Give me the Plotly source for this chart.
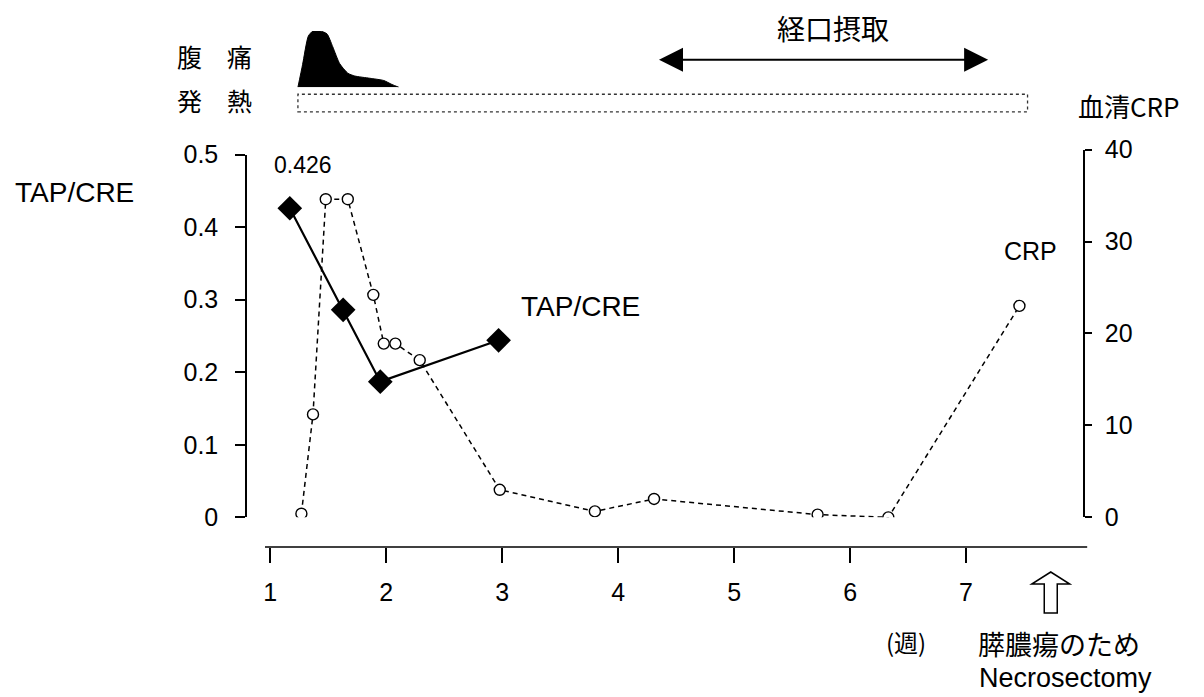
import plotly.graph_objects as go

# Time axis: weeks from onset
week_ticks = [1, 2, 3, 4, 5, 6, 7]

# Urinary TAP/CRE ratio
tap_weeks = [1.17, 1.63, 1.95, 2.97]
tap_cre = [0.426, 0.286, 0.187, 0.244]
tap_ticks = [0, 0.1, 0.2, 0.3, 0.4, 0.5]
tap_tick_text = ["0", "0.1", "0.2", "0.3", "0.4", "0.5"]

# Serum CRP (mg/dL)
crp_weeks = [1.27, 1.37, 1.48, 1.67, 1.89, 1.98, 2.08, 2.29, 2.98, 3.80, 4.31, 5.72, 6.33, 7.46]
crp_vals = [0.4, 11.2, 34.6, 34.6, 24.2, 18.9, 18.9, 17.1, 3.0, 0.65, 2.0, 0.3, 0.0, 23.0]
crp_ticks = [0, 10, 20, 30, 40]

# Abdominal pain intensity profile (relative)
pain_weeks = [1.24, 1.28, 1.33, 1.37, 1.43, 1.49, 1.54, 1.60, 1.67, 1.73, 1.86, 1.98, 2.05, 2.11]
pain_level = [0, 0.40, 0.91, 1.0, 1.0, 0.95, 0.72, 0.42, 0.25, 0.20, 0.16, 0.12, 0.05, 0]

# Clinical periods
fever_span = [1.24, 7.53]
oral_span = [4.34, 7.19]
surgery_week = 7.73

LATIN = "Liberation Sans, Arial, sans-serif"
CJK = "Noto Sans CJK JP, sans-serif"
INK = "black"

fig = go.Figure()

# CRP: dashed line with open circles (right axis)
fig.add_trace(go.Scatter(
    x=crp_weeks, y=crp_vals, yaxis="y", xaxis="x",
    mode="lines+markers",
    line=dict(color=INK, width=1.5, dash="5px,4px"),
    marker=dict(symbol="circle", size=11, color="white",
                line=dict(color=INK, width=1.4)),
    hoverinfo="skip", showlegend=False,
))

# TAP/CRE: solid line with filled diamonds (left axis)
fig.add_trace(go.Scatter(
    x=tap_weeks, y=tap_cre, yaxis="y2", xaxis="x",
    mode="lines+markers",
    line=dict(color=INK, width=2.2),
    marker=dict(symbol="diamond", size=19, color=INK),
    hoverinfo="skip", showlegend=False,
))

# Abdominal pain silhouette (top band)
fig.add_trace(go.Scatter(
    x=pain_weeks, y=pain_level, yaxis="y3", xaxis="x",
    mode="lines", line=dict(color=INK, width=1, shape="spline", smoothing=0.6),
    fill="toself", fillcolor=INK,
    hoverinfo="skip", showlegend=False,
))

fig.update_layout(
    width=1204, height=697,
    margin=dict(l=247, r=121, t=20, b=150),
    paper_bgcolor="white", plot_bgcolor="rgba(0,0,0,0)",
    font=dict(family=LATIN, color=INK, size=25),
    xaxis=dict(
        range=[0.801, 8.008], anchor="free", position=0,
        tickvals=week_ticks, ticks="outside", ticklen=15, tickwidth=1.5,
        tickcolor=INK, showline=False, showgrid=False, zeroline=False,
        ticklabelstandoff=8, tickfont=dict(size=25, family=LATIN),
    ),
    yaxis=dict(
        domain=[0.0569, 0.7628], range=[0, 40], side="right", anchor="x",
        tickvals=crp_ticks, ticks="outside", ticklen=7, tickwidth=1.5,
        tickcolor=INK, showline=True, linecolor=INK, linewidth=1.5,
        showgrid=False, zeroline=False, ticklabelstandoff=8,
        tickfont=dict(size=25, family=LATIN),
    ),
    yaxis2=dict(
        domain=[0.0569, 0.7533], range=[0, 0.5], side="left", anchor="x",
        tickvals=tap_ticks, ticktext=tap_tick_text, ticks="outside",
        ticklen=10, tickwidth=1.5, tickcolor=INK, showline=True,
        linecolor=INK, linewidth=1.5, showgrid=False, zeroline=False,
        ticklabelstandoff=12, tickfont=dict(size=25, family=LATIN),
    ),
    yaxis3=dict(domain=[0.8824, 0.9905], range=[0, 1], anchor="x",
                visible=False, fixedrange=True),
)

# Bottom time axis line
fig.add_shape(type="line", xref="paper", yref="paper",
              x0=0.0215, x1=1.005, y0=0, y1=0,
              line=dict(color=INK, width=1.5))

# Fever band (dotted outline)
fig.add_shape(type="rect", xref="x", yref="paper",
              x0=fever_span[0], x1=fever_span[1], y0=0.835, y1=0.869,
              line=dict(color="#333", width=1.3, dash="dot"))

# Oral intake double-headed arrow
fig.add_annotation(
    x=oral_span[1], y=0.49, xref="x", yref="y3",
    ax=oral_span[0], ay=0.49, axref="x", ayref="y3",
    text="", showarrow=True, arrowside="end+start",
    arrowhead=2, arrowsize=2.4, arrowwidth=2, arrowcolor=INK, standoff=0,
)

# Hollow upward arrow marking surgery
fig.add_shape(
    type="path", xref="x", yref="paper",
    xsizemode="pixel", ysizemode="pixel",
    xanchor=surgery_week, yanchor=0,
    path="M -6.5,-66 L 6.5,-66 L 6.5,-37 L 19,-37 L 0,-25 L -19,-37 L -6.5,-37 Z",
    line=dict(color=INK, width=1.5), fillcolor="white",
)

texts = [
    # (text, x, y, xref, yref, xanchor, size, family)
    ("TAP/CRE", -0.28, 0.6800, "paper", "paper", "left", 28, LATIN),
    ("0.426", 1.28, 0.485, "x", "y2", "center", 23, LATIN),
    ("TAP/CRE", 3.15, 0.29, "x", "y2", "left", 28, LATIN),
    ("CRP", 7.31, 29.0, "x", "y", "left", 25, LATIN),
    ("血清CRP", 0.992, 0.848, "paper", "paper", "left", 26, CJK),
    ("腹\u2003痛", -0.0861, 0.943, "paper", "paper", "left", 25, CJK),
    ("発\u2003熱", -0.0861, 0.858, "paper", "paper", "left", 25, CJK),
    ("経口摂取", 0.701, 0.996, "paper", "paper", "center", 28, CJK),
    ("(週)", 0.788, -0.182, "paper", "paper", "center", 24, CJK),
    ("膵膿瘍のため", 0.872, -0.186, "paper", "paper", "left", 27, CJK),
    ("Necrosectomy", 0.873, -0.252, "paper", "paper", "left", 27, LATIN),
]
for t, x, y, xr, yr, xa, sz, fam in texts:
    fig.add_annotation(text=t, x=x, y=y, xref=xr, yref=yr, xanchor=xa,
                       yanchor="middle", showarrow=False,
                       font=dict(size=sz, family=fam, color=INK))

fig.write_html("out.html")
